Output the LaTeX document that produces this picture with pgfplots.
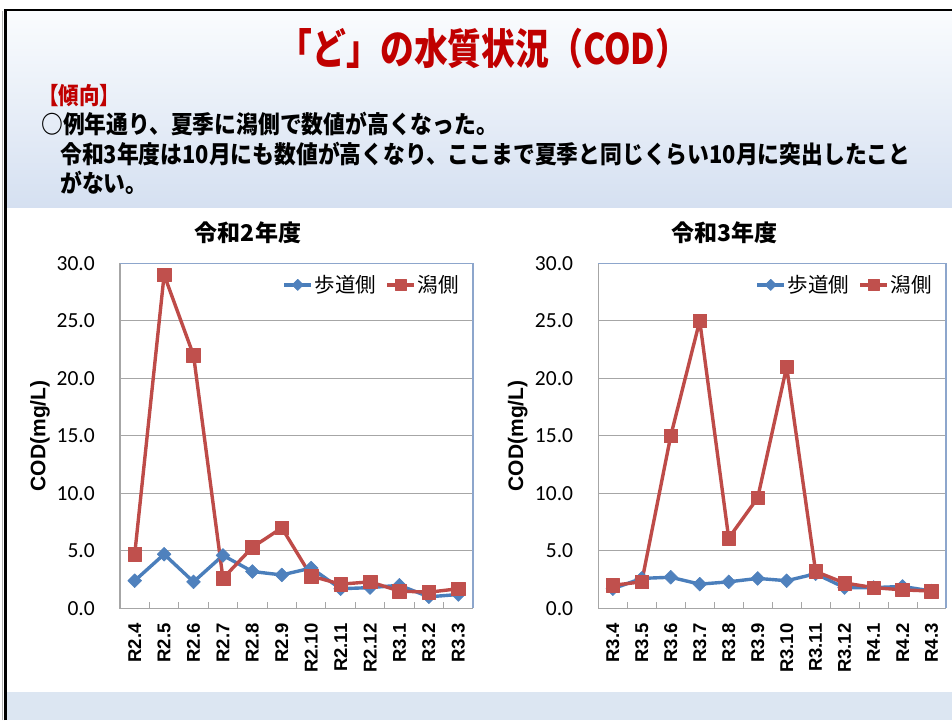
\documentclass[border=0pt]{standalone}
\usepackage{pgfplots}
\pgfplotsset{compat=1.18}
\usepackage{pgfplotstable}
\usepackage{graphicx}
\usepackage{fontspec}
\setmainfont{Liberation Sans}
\newfontfamily\jp{Noto Sans CJK JP}
\newfontfamily\carl{Carlito}
\definecolor{sblue}{HTML}{4A7EBB}
\definecolor{sred}{HTML}{BE4B48}
\definecolor{mblue}{HTML}{4F81BD}
\definecolor{mred}{HTML}{C0504D}
\definecolor{ttlred}{HTML}{C00000}
\definecolor{hdtop}{HTML}{FAFCFE}
\definecolor{hdbot}{HTML}{D5E0F1}
\definecolor{band}{HTML}{DCE6F2}
\definecolor{bordblue}{HTML}{8DA6CC}
\definecolor{gridc}{HTML}{A6A6A6}

\pgfplotstableread{
x a b
0 2.4 4.7
1 4.7 29.0
2 2.3 22.0
3 4.6 2.6
4 3.2 5.3
5 2.9 7.0
6 3.5 2.8
7 1.7 2.1
8 1.8 2.3
9 2.0 1.5
10 1.0 1.4
11 1.2 1.7
}\tblA

\pgfplotstableread{
x a b
0 1.7 2.0
1 2.6 2.3
2 2.7 15.0
3 2.1 25.0
4 2.3 6.1
5 2.6 9.6
6 2.4 21.0
7 3.0 3.2
8 1.8 2.2
9 1.8 1.8
10 1.9 1.6
11 1.5 1.5
}\tblB

\pgfplotsset{
  codstyle/.style={
    scale only axis, height=345pt,
    xmin=-0.5, xmax=11.5, ymin=0, ymax=30,
    xtick={0,...,11},
    minor xtick={0.5,1.5,...,10.5},
    major tick length=0pt, minor tick length=6pt,
    xtick pos=left,
    minor tick style={gridc, line width=1pt},
    ytick={0,5,...,30},
    ymajorgrids, major grid style={gridc, line width=1.1pt},
    axis line style={draw=none},
    clip=false,
    /pgf/number format/.cd, fixed, fixed zerofill, precision=1, assume math mode=true,
    /pgfplots/.cd,
    yticklabel style={font=\carl\fontsize{21.5}{21.5}\selectfont, anchor=east, inner sep=0pt, xshift=-25pt},
    xticklabel style={font=\bfseries\fontsize{18.5}{18.5}\selectfont, yshift=-15pt, rotate=90, anchor=east, inner sep=0pt},
    ylabel={COD(mg/L)},
    ylabel style={font=\bfseries\fontsize{21}{21}\selectfont, anchor=center},
    legend columns=2,
    legend style={at={(1,1)}, anchor=north east, xshift=-12pt, yshift=-10pt, draw=none, fill=none,
      font=\jp\fontsize{20.5}{20.5}\selectfont, inner sep=0pt,
      /tikz/every even column/.append style={column sep=7pt}},
    legend image code/.code={\draw[mark repeat=2,mark phase=2,##1] plot coordinates {(0pt,0pt) (13.5pt,0pt) (27pt,0pt)};},
    after end axis/.code={
      \draw[gridc, line width=1.1pt] (rel axis cs:0,1) -- (rel axis cs:0,0) -- (rel axis cs:1,0);
      \draw[bordblue, line width=1.1pt] (rel axis cs:0,1) -- (rel axis cs:1,1) -- (rel axis cs:1,0);
    },
  },
  bluel/.style={sblue, line width=3.4pt, line join=round, mark=square*, mark size=4.9pt, mark options={rotate=45, fill=mblue, draw=mblue, line width=0.5pt}},
  redl/.style={sred, line width=3.4pt, line join=round, mark=square*, mark size=6.8pt, mark options={fill=mred, draw=mred, line width=0.5pt}},
}

\begin{document}
\begin{tikzpicture}
\path[use as bounding box, fill=white] (0,0) rectangle (952pt,720pt);
\shade[top color=hdtop, bottom color=hdbot] (6pt,512pt) rectangle (952pt,710pt);
\fill[band] (6pt,0pt) rectangle (952pt,28pt);
\draw[gray!60, line width=1.5pt] (2.5pt,0pt) -- (2.5pt,709pt);
\draw[black, line width=2.6pt] (5.5pt,0pt) -- (5.5pt,710pt) -- (952pt,710pt);

\node[text=ttlred, inner sep=0pt] at (484pt,671pt) {\scalebox{0.98}[1.22]{\jp\bfseries\fontsize{34.5}{34.5}\selectfont 「ど」の水質状況（COD）}};
\node[text=ttlred, anchor=west, inner sep=0pt] at (38pt,624pt) {\scalebox{1}[1.15]{\jp\bfseries\fontsize{20.5}{20.5}\selectfont 【傾向】}};
\node[anchor=west, inner sep=0pt] at (41pt,596pt) {\scalebox{1}[1.12]{\jp\bfseries\fontsize{21.8}{21.8}\selectfont ○例年通り、夏季に潟側で数値が高くなった。}};
\node[anchor=west, inner sep=0pt] at (60pt,566pt) {\scalebox{1}[1.12]{\jp\bfseries\fontsize{21.8}{21.8}\selectfont 令和3年度は10月にも数値が高くなり、ここまで夏季と同じくらい10月に突出したこと}};
\node[anchor=west, inner sep=0pt] at (60pt,537pt) {\scalebox{1}[1.12]{\jp\bfseries\fontsize{21.8}{21.8}\selectfont がない。}};

\node[inner sep=0pt] at (248pt,487pt) {\jp\bfseries\fontsize{23}{23}\selectfont 令和2年度};
\node[inner sep=0pt] at (724.3pt,487pt) {\jp\bfseries\fontsize{23}{23}\selectfont 令和3年度};

\begin{axis}[codstyle, width=353pt, at={(120pt,111.7pt)}, anchor=south west,
  xticklabels={R2.4,R2.5,R2.6,R2.7,R2.8,R2.9,R2.10,R2.11,R2.12,R3.1,R3.2,R3.3},
  ylabel style={at={(axis description cs:-0.2266,0.5)}}]
\addlegendimage{bluel, mark size=4pt}
\addlegendimage{redl, mark size=5.6pt}
\legend{歩道側,潟側}
\addplot[bluel, forget plot] table[x=x, y=a] {\tblA};
\addplot[redl, forget plot] table[x=x, y=b] {\tblA};
\end{axis}

\begin{axis}[codstyle, width=347.7pt, at={(598.3pt,111.7pt)}, anchor=south west,
  xticklabels={R3.4,R3.5,R3.6,R3.7,R3.8,R3.9,R3.10,R3.11,R3.12,R4.1,R4.2,R4.3},
  ylabel style={at={(axis description cs:-0.2318,0.5)}}]
\addlegendimage{bluel, mark size=4pt}
\addlegendimage{redl, mark size=5.6pt}
\legend{歩道側,潟側}
\addplot[bluel, forget plot] table[x=x, y=a] {\tblB};
\addplot[redl, forget plot] table[x=x, y=b] {\tblB};
\end{axis}
\end{tikzpicture}
\end{document}
